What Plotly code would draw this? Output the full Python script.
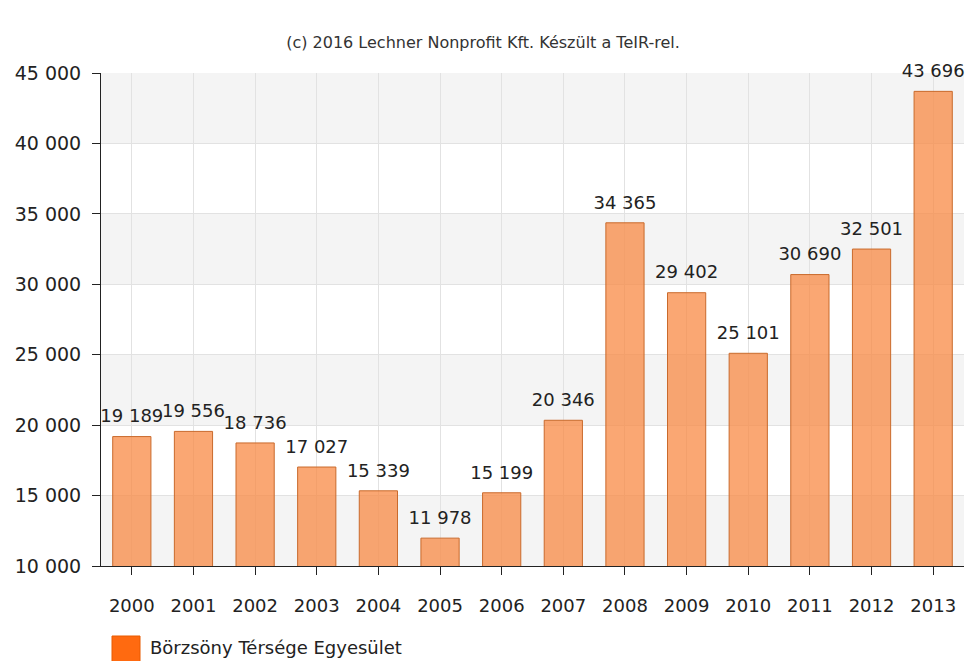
import plotly.graph_objects as go

# datos
anios = ['2000', '2001', '2002', '2003', '2004', '2005', '2006',
         '2007', '2008', '2009', '2010', '2011', '2012', '2013']
valores = [19189, 19556, 18736, 17027, 15339, 11978, 15199,
           20346, 34365, 29402, 25101, 30690, 32501, 43696]
serie = 'Börzsöny Térsége Egyesület'
titulo = '(c) 2016 Lechner Nonprofit Kft. Készült a TeIR-rel.'
y_ticks = [10000, 15000, 20000, 25000, 30000, 35000, 40000, 45000]

fuente = 'DejaVu Sans'

fig = go.Figure()

fig.add_trace(go.Bar(
    x=anios, y=valores, name=serie, showlegend=False,
    marker=dict(color='rgba(248,138,68,0.75)',
                line=dict(color='#c96a2c', width=1)),
    hoverinfo='x+y',
))

# etiquetas de valor: marcador invisible para separarlas del borde de la barra
fig.add_trace(go.Scatter(
    x=anios, y=valores, mode='markers+text', showlegend=False,
    marker=dict(size=14, color='rgba(0,0,0,0)'),
    texttemplate='%{y:,d}', textposition='top center',
    textfont=dict(family=fuente, size=18, color='#222'),
    cliponaxis=False, hoverinfo='skip',
))

# franjas grises alternadas
formas = []
for i in range(len(y_ticks) - 1, 0, -2):
    formas.append(dict(type='rect', xref='paper', yref='y', layer='below',
                       x0=0, x1=1, y0=y_ticks[i - 1], y1=y_ticks[i],
                       fillcolor='#f4f4f4', line=dict(width=0)))

# leyenda a mano: cuadro naranja grande + texto
formas.append(dict(type='rect', xref='paper', yref='paper',
                   xsizemode='pixel', ysizemode='pixel', xanchor=0, yanchor=0,
                   x0=11, x1=39, y0=-98, y1=-70,
                   fillcolor='#ff6a10', line=dict(color='#e85a00', width=1)))
notas = [dict(text=serie, xref='paper', yref='paper', x=0, y=0,
              xshift=47, yshift=-81, xanchor='left', yanchor='middle',
              showarrow=False, font=dict(family=fuente, size=18, color='#222'))]

fig.update_layout(
    width=966, height=661,
    margin=dict(l=101, r=2, t=73, b=95, autoexpand=False),
    paper_bgcolor='white', plot_bgcolor='white',
    separators=', ',
    showlegend=False,
    font=dict(family=fuente, color='#222'),
    title=dict(text=titulo, x=0.5, xref='container', xanchor='center',
               y=0.936, yanchor='middle',
               font=dict(family=fuente, size=16, color='#333')),
    bargap=0.38,
    shapes=formas,
    annotations=notas,
)

fig.update_xaxes(
    type='category', range=[-0.5, 13.5],
    showgrid=True, gridcolor='#e2e2e2', gridwidth=1,
    showline=True, linecolor='#222', linewidth=1,
    ticks='outside', ticklen=8, tickcolor='#222', ticklabelstandoff=15,
    tickfont=dict(family=fuente, size=18, color='#222'),
)
fig.update_yaxes(
    range=[10000, 45000], tickvals=y_ticks, tickformat=',d',
    showgrid=True, gridcolor='#e2e2e2', gridwidth=1,
    showline=True, linecolor='#222', linewidth=1,
    ticks='outside', ticklen=8, tickcolor='#222', ticklabelstandoff=7,
    tickfont=dict(family=fuente, size=19, color='#222'),
    zeroline=False,
)

# quitar el margen del body para que la figura ocupe toda la ventana
fig.write_html('out.html', config={'displayModeBar': False},
               post_script="document.body.style.margin='0';document.body.style.overflow='hidden';")
